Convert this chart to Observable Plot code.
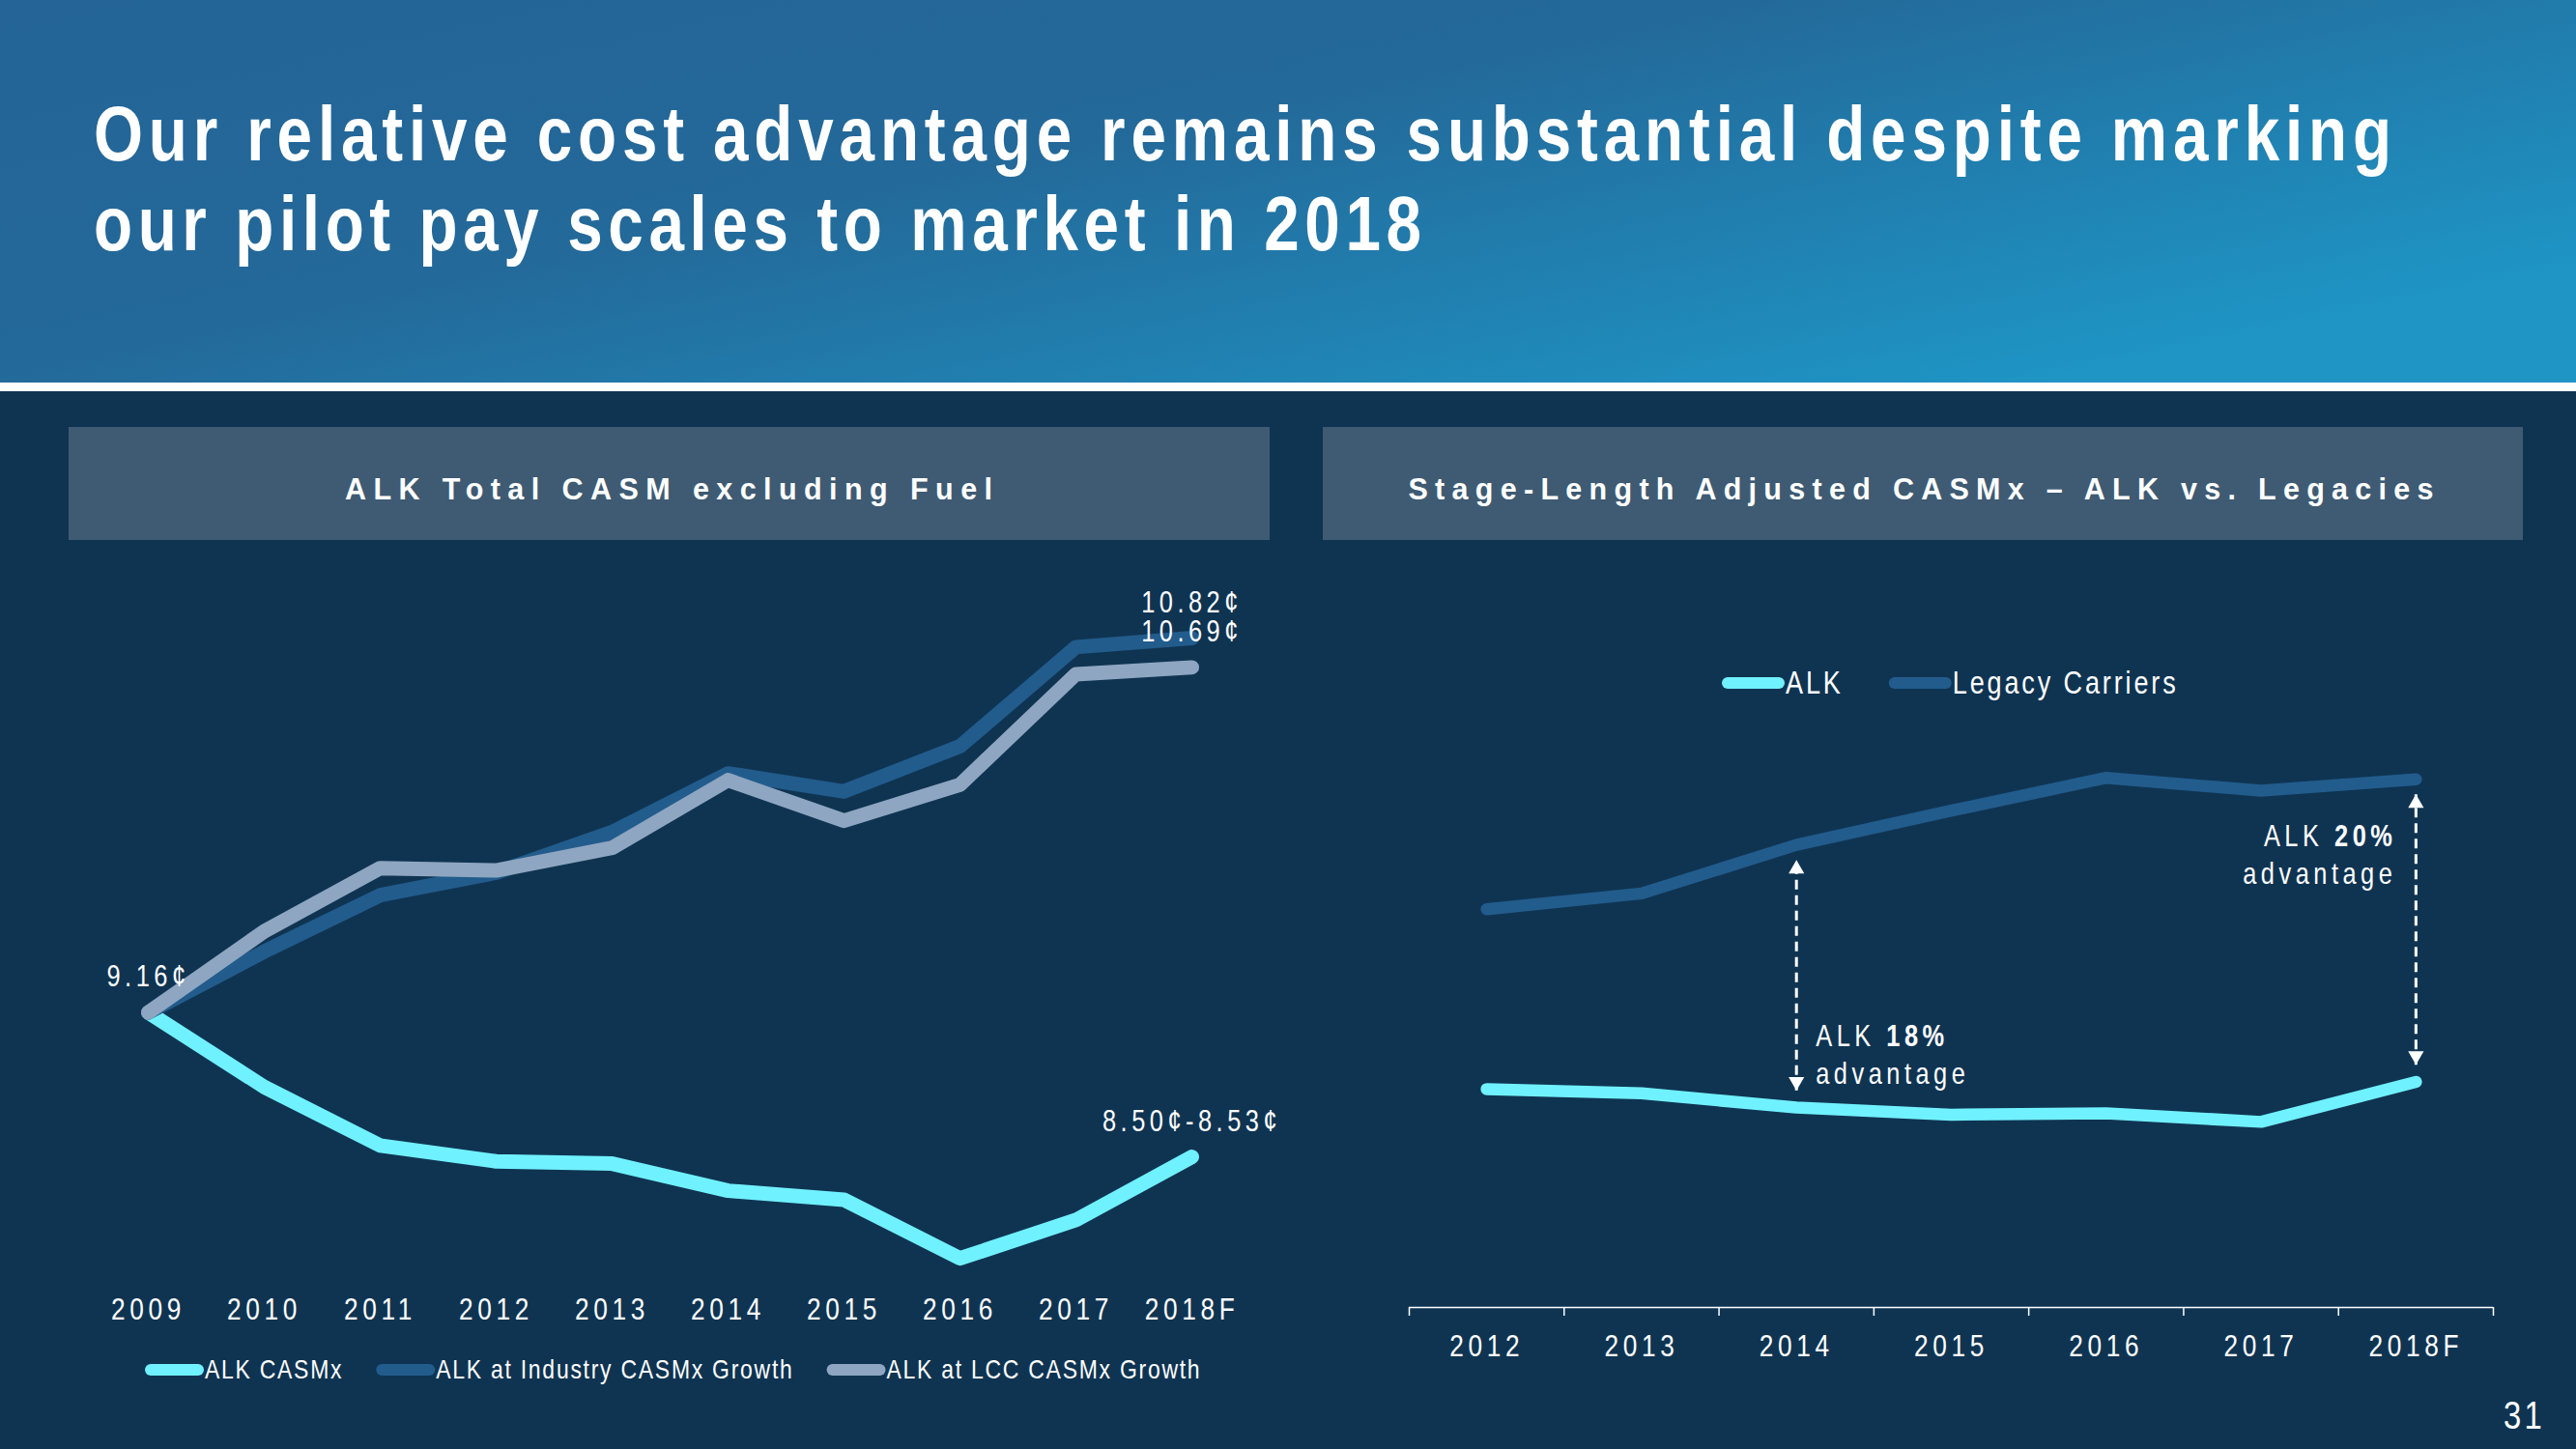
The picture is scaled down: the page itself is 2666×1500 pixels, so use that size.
<!DOCTYPE html>
<html><head><meta charset="utf-8">
<script src="https://cdn.jsdelivr.net/npm/d3@7"></script>
<script src="https://cdn.jsdelivr.net/npm/@observablehq/plot@0.6"></script>
<style>
html,body{margin:0;padding:0;background:#0f3452;}
#page{position:relative;width:2666px;height:1500px;overflow:hidden;background:#0f3452;}
#bg{position:absolute;left:0;top:0;}
.chart{position:absolute;}
.chart svg{overflow:visible;}
</style></head>
<body>
<div id="page">
  <svg id="bg" width="2666" height="1500"></svg>
  <div id="left" class="chart" style="left:71px;top:600px"></div>
  <div id="right" class="chart" style="left:1369px;top:600px"></div>
</div>
<script>
// ---------------- DATA ----------------
const titleLines = ["Our relative cost advantage remains substantial despite marking", "our pilot pay scales to market in 2018"];
const panelTitles = ["ALK Total CASM excluding Fuel", "Stage-Length Adjusted CASMx \u2013 ALK vs. Legacies"];
const pageNumber = "31";

// Left chart: ALK Total CASM excluding fuel (cents)
const leftYears = ["2009","2010","2011","2012","2013","2014","2015","2016","2017","2018F"];
const leftSeries = ["ALK CASMx", "ALK at Industry CASMx Growth", "ALK at LCC CASMx Growth"];
const alkCasmx       = [9.16, 8.83, 8.57, 8.50, 8.49, 8.37, 8.33, 8.07, 8.24, 8.52];
const industryGrowth = [9.16, 9.43, 9.68, 9.78, 9.96, 10.22, 10.14, 10.34, 10.78, 10.82];
const lccGrowth      = [9.16, 9.52, 9.80, 9.79, 9.89, 10.19, 10.01, 10.17, 10.66, 10.69];
const leftLabelTexts  = ["9.16\u00a2", "10.82\u00a2", "10.69\u00a2", "8.50\u00a2-8.53\u00a2"];
const leftLabelYears  = ["2009", "2018F", "2018F", "2018F"];
const leftLabelSeries = [2, 1, 2, 0];

// Right chart: stage-length adjusted CASMx (cents, estimated)
const rightYears = ["2012","2013","2014","2015","2016","2017","2018F"];
const rightSeries = ["ALK", "Legacy Carriers"];
const alkAdj    = [8.47, 8.44, 8.34, 8.29, 8.30, 8.24, 8.52];
const legacyAdj = [9.73, 9.84, 10.18, 10.42, 10.65, 10.56, 10.64];
const gapYears  = ["2014", "2018F"];
const gapPcts   = ["18%", "20%"];

// ---------------- STYLE ----------------
const C = {cyan:"#70f1ff", blue:"#225c8c", gray:"#8ea6c1", bg:"#0f3452", panel:"#3e5b73"};
const leftColors = [C.cyan, C.blue, C.gray];
const rightColors = [C.cyan, C.blue];

function hasFont(name){
  const c = document.createElement("canvas").getContext("2d");
  c.font = "40px monospace"; const a = c.measureText("ABCabc0123xyz").width;
  c.font = `40px "${name}", monospace`; return c.measureText("ABCabc0123xyz").width !== a;
}
const NARROW = hasFont("Liberation Sans Narrow");
const FONT = NARROW ? '"Liberation Sans Narrow", sans-serif' : '"Liberation Sans", Arial, sans-serif';
const FONT_REG = '"Liberation Sans", Arial, sans-serif';
// horizontal condensing factor to mimic Arial Narrow when it is not installed
const SX = NARROW ? 1 : 0.82;
const em = v => (v / SX).toFixed(3) + "em";   // letter spacing expressed in final (condensed) units
const CHART_LS = em(0.145);

// ---------------- BACKGROUND / TEXT OVERLAY ----------------
const bg = d3.select("#bg").attr("font-family", FONT);
const defs = bg.append("defs");
const grad = defs.append("linearGradient").attr("id","hg").attr("x1","0").attr("y1","0").attr("x2","1").attr("y2","0.7");
grad.append("stop").attr("offset","0").attr("stop-color","#246497");
grad.append("stop").attr("offset","0.45").attr("stop-color","#236999");
grad.append("stop").attr("offset","1").attr("stop-color","#1e95c5");
bg.append("rect").attr("width",2666).attr("height",396).attr("fill","url(#hg)");
bg.append("rect").attr("y",396).attr("width",2666).attr("height",9).attr("fill","#fff");

function ctext(x, y, str){
  return bg.append("text").attr("transform", `translate(${x},${y}) scale(${SX},1)`)
    .attr("fill","#fff").text(str);
}

const titleLayout = [{x:97, y:166, len:2378}, {x:97, y:259, len:1374}];
titleLines.forEach((t,i)=>{
  ctext(titleLayout[i].x, titleLayout[i].y, t).attr("font-size",80).attr("font-weight","bold")
    .attr("textLength",titleLayout[i].len/SX).attr("lengthAdjust","spacing");
});

// panel headers: regular-width bold, letter-spaced
const panelLayout = [{x:71, w:1243, cx:692, len:670}, {x:1369, w:1242, cx:1988, len:1061}];
panelTitles.forEach((t,i)=>{
  const p = panelLayout[i];
  bg.append("rect").attr("x",p.x).attr("y",442).attr("width",p.w).attr("height",117).attr("fill",C.panel);
  bg.append("text").attr("x",p.cx).attr("y",517).attr("text-anchor","middle").attr("fill","#fff")
    .attr("font-family",FONT_REG).attr("font-size",30.5).attr("font-weight","bold")
    .attr("textLength",p.len).attr("lengthAdjust","spacing").text(t);
});

ctext(2634, 1479, pageNumber).attr("text-anchor","end").attr("font-size",40).attr("letter-spacing",em(0.08));

function legend(names, colors, o){
  let x = o.x;
  names.forEach((n,i)=>{
    bg.append("line").attr("x1",x+o.sw/2).attr("x2",x+o.len-o.sw/2).attr("y1",o.cy).attr("y2",o.cy)
      .attr("stroke",colors[i]).attr("stroke-width",o.sw).attr("stroke-linecap","round");
    const t = ctext(x+o.len+1, o.base, n).attr("font-size",o.fs).attr("letter-spacing",o.ls);
    x = x + o.len + 1 + t.node().getComputedTextLength()*SX + o.gap;
  });
}
legend(leftSeries, leftColors, {x:150, cy:1418, base:1427, fs:28, sw:12, len:61, gap:34, ls:em(0.062)});
legend(rightSeries, rightColors, {x:1782, cy:707, base:718, fs:33, sw:12, len:65, gap:47, ls:em(0.087)});

// condense Plot's texts horizontally around their anchor point and letter-space them
function condense(svg){
  svg.querySelectorAll("text").forEach(el=>{
    el.setAttribute("letter-spacing", CHART_LS);
    if (SX === 1) return;
    const xa = el.getAttribute("x");
    let x = 0;
    if (xa !== null && /^-?[\d.]+$/.test(xa.trim())) { x = +xa; el.removeAttribute("x"); }
    const tr = el.getAttribute("transform")||"";
    el.setAttribute("transform", `${tr} translate(${x},0) scale(${SX},1)`);
  });
}

// ---------------- LEFT CHART ----------------
const leftValues = [alkCasmx, industryGrowth, lccGrowth];
const leftData = leftSeries.flatMap((s,si)=>leftYears.map((yr,i)=>({series:s, year:yr, value:leftValues[si][i]})));
const leftLabels = leftLabelTexts.map((t,k)=>({text:t, year:leftLabelYears[k],
  value:leftValues[leftLabelSeries[k]][leftYears.indexOf(leftLabelYears[k])]}));

const leftPlot = Plot.plot({
  width:1243, height:800, marginLeft:82, marginRight:81, marginTop:18, marginBottom:60,
  style:{background:"transparent", color:"#fff", fontFamily:FONT, overflow:"visible"},
  x:{type:"point", domain:leftYears, padding:0},
  y:{domain:[7.908, 11.0], axis:null},
  color:{domain:leftSeries, range:leftColors},
  marks:[
    Plot.axisX({tickSize:0, tickPadding:3, fontSize:32, label:null, fill:"#fff"}),
    Plot.line(leftData, {x:"year", y:"value", z:"series", stroke:"series", strokeWidth:15,
      strokeLinecap:"round", strokeLinejoin:"round"}),
    Plot.text(leftLabels, {x:"year", y:"value", text:"text", lineAnchor:"bottom", dy:-27,
      fontSize:31, fill:"#fff"})
  ]
});
document.getElementById("left").appendChild(leftPlot);
condense(leftPlot);

// ---------------- RIGHT CHART ----------------
const rightValues = [alkAdj, legacyAdj];
const rightData = rightSeries.flatMap((s,si)=>rightYears.map((yr,i)=>({series:s, i, value:rightValues[si][i]})));
const gaps = gapYears.map((yr,k)=>{
  const i = rightYears.indexOf(yr);
  return {i, top:legacyAdj[i]-0.105, bottom:alkAdj[i]+0.12, alk:alkAdj[i], legacy:legacyAdj[i],
          text:`ALK ${gapPcts[k]}\nadvantage`};
});
const yMin = 6.94;
const boundaries = d3.range(rightYears.length+1).map(i=>i-0.5);

const rightPlot = Plot.plot({
  width:1242, height:800, marginLeft:89, marginRight:31, marginTop:17, marginBottom:47,
  style:{background:"transparent", color:"#fff", fontFamily:FONT, overflow:"visible"},
  x:{type:"linear", domain:[-0.5, rightYears.length-0.5]},
  y:{domain:[yMin, 11.92], axis:null},
  color:{domain:rightSeries, range:rightColors},
  marks:[
    Plot.ruleY([yMin], {stroke:"#fff", strokeWidth:1.5}),
    Plot.axisX(boundaries, {tickSize:9, text:null, stroke:"#fff", strokeWidth:1.5, strokeOpacity:1, label:null}),
    Plot.axisX(d3.range(rightYears.length), {tickSize:0, tickPadding:28, tickFormat:i=>rightYears[i],
      fontSize:32, fill:"#fff", label:null}),
    Plot.line(rightData, {x:"i", y:"value", z:"series", stroke:"series", strokeWidth:12.5,
      strokeLinecap:"round", strokeLinejoin:"round"}),
    Plot.link(gaps, {x1:"i", x2:"i", y1:"bottom", y2:"top", stroke:"#fff", strokeWidth:3, strokeDasharray:"10,6"}),
    Plot.dot(gaps, {x:"i", y:"top", symbol:"triangle", r:6, fill:"#fff", stroke:"none", dy:9.3}),
    Plot.dot(gaps, {x:"i", y:"bottom", symbol:"triangle", r:6, fill:"#fff", stroke:"none", rotate:180, dy:-9.3}),
    Plot.text(gaps.slice(0,1), {x:"i", y:"alk", text:"text", textAnchor:"start", lineAnchor:"bottom",
      dx:20, dy:-25, fontSize:31, lineHeight:1.26, fill:"#fff"}),
    Plot.text(gaps.slice(1), {x:"i", y:"legacy", text:"text", textAnchor:"end", lineAnchor:"top",
      dx:-20, dy:42, fontSize:31, lineHeight:1.26, fill:"#fff"})
  ]
});
document.getElementById("right").appendChild(rightPlot);

// bold percentages inside annotation text
rightPlot.querySelectorAll("tspan").forEach(ts=>{
  const m = ts.textContent.match(/^(ALK )(\d+%)$/);
  if (m) {
    ts.textContent = m[1];
    const b = document.createElementNS("http://www.w3.org/2000/svg","tspan");
    b.setAttribute("font-weight","bold");
    b.textContent = m[2];
    ts.appendChild(b);
  }
});
condense(rightPlot);
</script>
</body></html>
